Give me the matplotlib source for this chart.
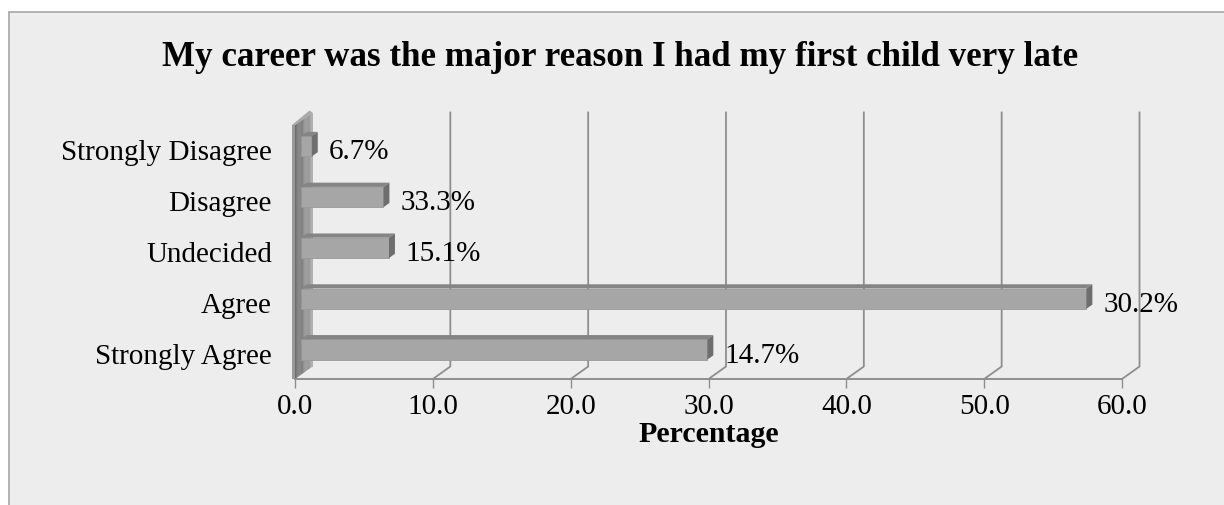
import matplotlib
matplotlib.use("Agg")
import matplotlib.pyplot as plt
from matplotlib.patches import Polygon, Rectangle
from matplotlib.transforms import IdentityTransform
import numpy as np

# Survey responses
categories = ["Strongly Disagree", "Disagree", "Undecided", "Agree", "Strongly Agree"]
percent = [0.8, 6.0, 6.4, 57.0, 29.5]
value_labels = ["6.7%", "33.3%", "15.1%", "30.2%", "14.7%"]
x_ticks = [0, 10, 20, 30, 40, 50, 60]

title = "My career was the major reason I had my first child very late"
x_title = "Percentage"

W, H, DPI = 1224, 505, 100
plt.rcParams["font.family"] = ["Liberation Serif", "DejaVu Serif"]

fig = plt.figure(figsize=(W / DPI, H / DPI), dpi=DPI, facecolor="white")

# chart panel with thin grey border
fig.patches.append(Rectangle((9 / W, -0.05), 1.2, 1 - 12 / H + 0.05,
                             transform=fig.transFigure, facecolor="#EDEDED",
                             edgecolor="#A6A6A6", linewidth=1.2, zorder=-5))

# plot area (front plane of the pseudo-3D box)
ax = fig.add_axes([295 / W, (H - 379) / H, (1122 - 295) / W, (379 - 125) / H])
ax.set_zorder(10)
ax.set_xlim(0, 60)
ax.set_ylim(len(categories) - 0.5, -0.5)
ax.patch.set_visible(False)
for s in ("top", "right", "left"):
    ax.spines[s].set_visible(False)
ax.spines["bottom"].set_color("#8E8E8E")
ax.spines["bottom"].set_linewidth(1.4)

ax.set_xticks(x_ticks)
ax.set_xticklabels([f"{t:.1f}" for t in x_ticks], fontsize=21)
ax.tick_params(axis="x", direction="out", length=6.5, width=1.0, color="#8E8E8E", pad=4.5)
ax.set_yticks(range(len(categories)))
ax.set_yticklabels([])
ax.tick_params(axis="y", length=0)

# category names, right-aligned left of the wall
for i, name in enumerate(categories):
    ax.annotate(name, xy=(0, i), xytext=(-23, -3), textcoords="offset pixels",
                ha="right", va="center", fontsize=21, color="black",
                annotation_clip=False)

# depth direction in pixels (right, up)
DX, DY = 17.5, 12.5
BAR_D0, BAR_D1 = 0.33, 0.67
BAR_H = 0.4
ident = IdentityTransform()


def project(v, y, d):
    px, py = ax.transData.transform((v, y))
    return (px + d * DX, py + d * DY)


def poly(pts, **kw):
    p = Polygon(pts, closed=True, transform=ident, **kw)
    fig.patches.append(p)
    return p


y_top, y_bot = -0.5, len(categories) - 0.5

# back wall gridlines and floor diagonals
for t in x_ticks:
    if t == 0:
        continue
    a = project(t, y_bot, 0)
    b = project(t, y_bot, 1)
    c = project(t, y_top, 1)
    fig.lines.append(plt.Line2D([a[0], b[0], c[0]], [a[1], b[1], c[1]],
                                transform=ident, color="#8E8E8E", linewidth=1.3,
                                zorder=1))

# left wall with shading across its depth
n_strips = 20
shades = np.concatenate([np.linspace(0.36, 0.42, 6), np.linspace(0.44, 0.62, 14)])
for k in range(n_strips):
    d0, d1 = k / n_strips, (k + 1) / n_strips
    g = shades[k]
    poly([project(0, y_bot, d0), project(0, y_bot, d1),
          project(0, y_top, d1), project(0, y_top, d0)],
         facecolor=(g, g, g), edgecolor="none", zorder=2)
# thin lighter edge strips of the wall
f_bot = project(0, y_bot, 0)
f_top = project(0, y_top, 0)
b_top = project(0, y_top, 1)
b_bot = project(0, y_bot, 1)
poly([(f_bot[0] - 3, f_bot[1]), f_bot, f_top, (f_top[0] - 3, f_top[1])],
     facecolor="#9A9A9A", edgecolor="none", zorder=2)
poly([(f_top[0] - 3, f_top[1]), f_top, b_top, (b_top[0] - 3, b_top[1] + 2)],
     facecolor="#A8A8A8", edgecolor="none", zorder=2)
poly([(b_bot[0] - 1.5, b_bot[1]), b_bot, b_top, (b_top[0] - 1.5, b_top[1])],
     facecolor="#B0B0B0", edgecolor="none", zorder=2)

# bars: front, top and right faces
for i, v in enumerate(percent):
    yt, yb = i - BAR_H / 2, i + BAR_H / 2
    poly([project(0, yb, BAR_D0), project(v, yb, BAR_D0),
          project(v, yt, BAR_D0), project(0, yt, BAR_D0)],
         facecolor="#A6A6A6", edgecolor="#9A9A9A", linewidth=0.6, zorder=4)
    poly([project(0, yt, BAR_D0), project(v, yt, BAR_D0),
          project(v, yt, BAR_D1), project(0, yt, BAR_D1)],
         facecolor="#858585", edgecolor="none", zorder=4)
    poly([project(v, yb, BAR_D0), project(v, yb, BAR_D1),
          project(v, yt, BAR_D1), project(v, yt, BAR_D0)],
         facecolor="#6E6E6E", edgecolor="none", zorder=4)
    ax.annotate(value_labels[i], xy=(v, i), xytext=(22.5, -2),
                textcoords="offset pixels", ha="left", va="center",
                fontsize=21, color="black", zorder=5)

fig.text(620 / W, 1 - 58 / H, title, ha="center", va="center",
         fontsize=25.2, fontweight="bold")
fig.text(708.5 / W, 1 - 434 / H, x_title, ha="center", va="center",
         fontsize=21.5, fontweight="bold")

fig.savefig("out.png", dpi=DPI, facecolor="white")
